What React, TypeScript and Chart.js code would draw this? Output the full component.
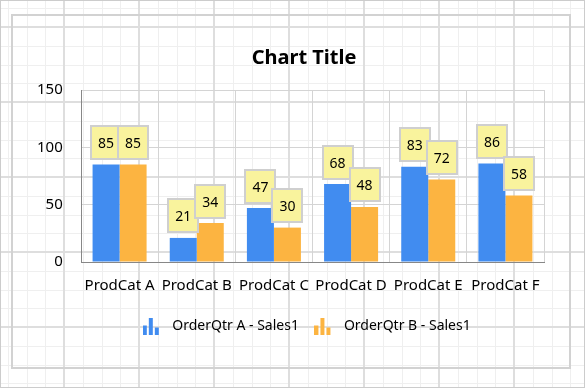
import React, { useEffect, useRef } from 'react';
import { Chart, registerables } from 'chart.js';

Chart.register(...registerables);

const categories = ['ProdCat A', 'ProdCat B', 'ProdCat C', 'ProdCat D', 'ProdCat E', 'ProdCat F'];
const seriesA = [85, 21, 47, 68, 83, 86];
const seriesB = [85, 34, 30, 48, 72, 58];
const seriesNames = ['OrderQtr A - Sales1', 'OrderQtr B - Sales1'];
const seriesColors = ['#418CF0', '#FCB441'];
const yMin = 0;
const yMax = 150;
const yStep = 50;
const titleText = 'Chart Title';

const FONT = '"Noto Sans", "Open Sans", sans-serif';

function makeIcon(color: string) {
  const c = document.createElement('canvas');
  c.width = 17;
  c.height = 17;
  const g = c.getContext('2d')!;
  g.fillStyle = color;
  g.fillRect(0, 8, 4, 9);
  g.fillRect(6, 0, 4, 17);
  g.fillRect(12, 10, 4, 7);
  return c;
}

const bgPlugin = {
  id: 'designerGrid',
  beforeDraw(chart: any) {
    const { ctx, width, height } = chart;
    ctx.save();
    ctx.fillStyle = '#ffffff';
    ctx.fillRect(0, 0, width, height);
    const step = 18.75;
    ctx.fillStyle = '#efefef';
    for (let k = -8; k < 40; k++) {
      const x = Math.round(64 + k * step);
      if (x >= 0 && x < width && ((k % 4) + 4) % 4 !== 0) ctx.fillRect(x, 0, 1, height);
      const y = Math.round(27 + k * step);
      if (y >= 0 && y < height && ((k % 4) + 4) % 4 !== 0) ctx.fillRect(0, y, width, 1);
    }
    ctx.fillStyle = '#dedede';
    for (let k = -2; k < 10; k++) {
      const x = Math.round(64 + k * 75);
      if (x >= 0 && x < width) ctx.fillRect(x - 1, 0, 2, height);
      const y = Math.round(27 + k * 75);
      if (y >= 0 && y < height) ctx.fillRect(0, y - 1, width, 2);
    }
    ctx.strokeStyle = '#d2d2d2';
    ctx.lineWidth = 2;
    ctx.strokeRect(12, 15, 558, 353);
    ctx.strokeStyle = '#cccccc';
    ctx.lineWidth = 1;
    ctx.strokeRect(0.5, 0.5, width - 1, height - 1);
    ctx.restore();
  },
};

const valueBoxPlugin = {
  id: 'valueBoxes',
  afterDatasetsDraw(chart: any) {
    const ctx = chart.ctx;
    ctx.save();
    ctx.font = `14px ${FONT}`;
    ctx.textAlign = 'center';
    ctx.textBaseline = 'middle';
    chart.data.datasets.forEach((ds: any, di: number) => {
      const meta = chart.getDatasetMeta(di);
      meta.data.forEach((el: any, i: number) => {
        const text = String(ds.data[i]);
        const w = Math.round(ctx.measureText(text).width) + 16;
        const h = 35;
        const x = Math.round(el.x - w / 2);
        const y = Math.round(el.y - 4.5 - h);
        ctx.fillStyle = '#F9F39D';
        ctx.fillRect(x, y, w, h);
        ctx.strokeStyle = '#cfcfcf';
        ctx.lineWidth = 2;
        ctx.strokeRect(x + 1, y + 1, w - 2, h - 2);
        ctx.fillStyle = '#000000';
        ctx.fillText(text, el.x, y + h / 2 + 1.5);
      });
    });
    ctx.restore();
  },
};

export default function App() {
  const canvasRef = useRef<HTMLCanvasElement | null>(null);

  useEffect(() => {
    document.body.style.margin = '0';
    const icons = seriesColors.map(makeIcon);
    const chart = new Chart(canvasRef.current!, {
      type: 'bar',
      data: {
        labels: categories,
        datasets: [
          { label: seriesNames[0], data: seriesA, backgroundColor: seriesColors[0], borderWidth: 0 },
          { label: seriesNames[1], data: seriesB, backgroundColor: seriesColors[1], borderWidth: 0 },
        ],
      },
      options: {
        animation: false,
        responsive: false,
        devicePixelRatio: 1,
        datasets: { bar: { categoryPercentage: 0.7, barPercentage: 1.0 } },
        layout: { padding: { left: 64, right: 41, top: 0, bottom: 45 } },
        scales: {
          x: {
            offset: true,
            grid: { offset: true, color: '#d4d4d4', lineWidth: 1, drawTicks: false },
            border: { color: '#878787', width: 1 },
            ticks: {
              font: { family: FONT, size: 15 },
              color: '#000000',
              padding: 15,
              autoSkip: false,
              maxRotation: 0,
              minRotation: 0,
            },
            afterFit: (scale: any) => {
              scale.height -= 1;
            },
          },
          y: {
            min: yMin,
            max: yMax,
            grid: { color: '#d4d4d4', lineWidth: 1, drawTicks: false },
            border: { color: '#878787', width: 1 },
            ticks: {
              stepSize: yStep,
              font: { family: FONT, size: 15 },
              color: '#000000',
              mirror: true,
              crossAlign: 'far',
              padding: -44,
            },
            afterFit: (scale: any) => {
              scale.width = 17;
            },
          },
        },
        plugins: {
          title: {
            display: true,
            text: titleText,
            color: '#000000',
            font: { family: FONT, size: 20, weight: 'bold' },
            padding: { top: 46, bottom: 20 },
          },
          legend: {
            position: 'bottom',
            labels: {
              usePointStyle: true,
              pointStyleWidth: 28,
              font: { family: FONT, size: 14 },
              color: '#000000',
              padding: 10,
              generateLabels: (c: any) => {
                const items = (Chart.defaults.plugins.legend.labels as any).generateLabels(c);
                items.forEach((it: any, i: number) => {
                  it.pointStyle = icons[i];
                });
                return items;
              },
            },
          },
          tooltip: { enabled: false },
        },
      },
      plugins: [bgPlugin, valueBoxPlugin],
    } as any);
    return () => chart.destroy();
  }, []);

  return (
    <div style={{ position: 'absolute', left: 0, top: 0, width: 585, height: 388 }}>
      <canvas ref={canvasRef} width={585} height={388} style={{ display: 'block' }} />
    </div>
  );
}
